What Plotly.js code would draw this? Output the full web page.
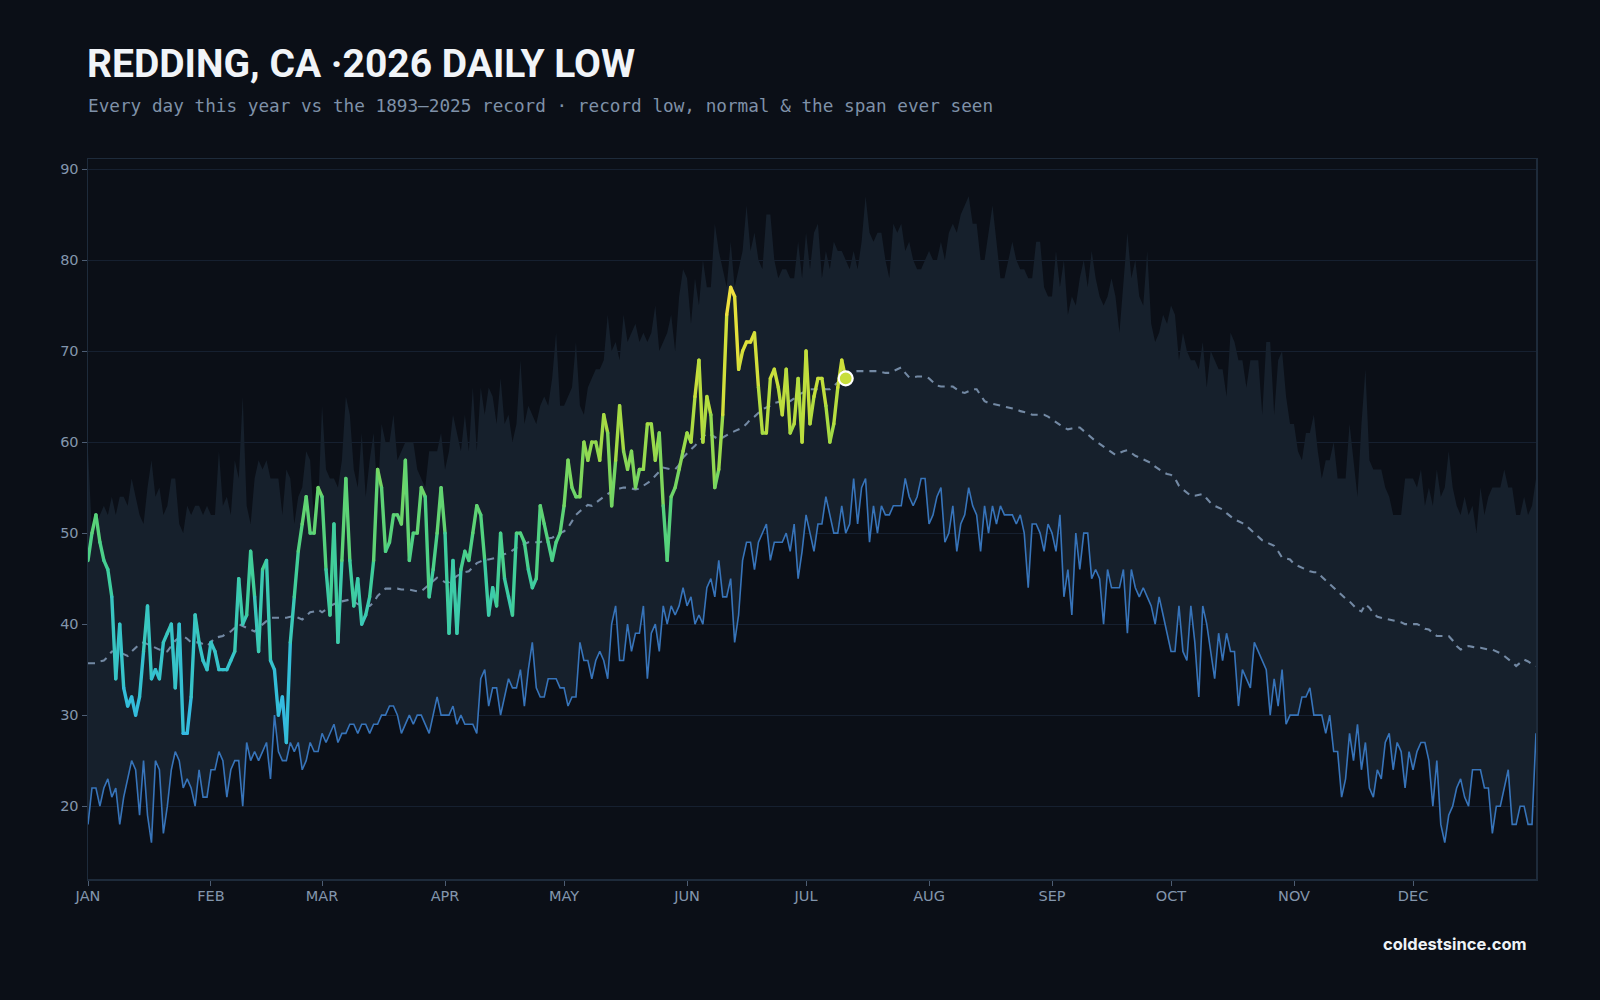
<!DOCTYPE html>
<html>
<head>
<meta charset="utf-8">
<script src="https://cdn.plot.ly/plotly-3.0.1.min.js"></script>
<style>
  html, body { margin: 0; padding: 0; background: #0b0f17; }
  #chart { width: 1600px; height: 1000px; }
</style>
</head>
<body>
<div id="chart"></div>
<script>
// Month labels and the day-of-year on which each month starts
const monthLabels = ['JAN','FEB','MAR','APR','MAY','JUN','JUL','AUG','SEP','OCT','NOV','DEC'];
const monthStartDay = [0,31,59,90,120,151,181,212,243,273,304,334];

// Record (coldest) daily low, 1893–2025, one value per calendar day
const recordLow = [
  18,22,22,20,22,23,21,22,18,21,
  23,25,24,19,25,19,16,25,24,17,
  20,24,26,25,22,23,22,20,24,21,
  21,24,24,26,25,21,24,25,25,20,
  27,25,26,25,26,27,23,30,26,25,
  25,27,26,27,24,25,27,26,26,28,
  27,28,29,27,28,28,29,29,28,29,
  29,28,29,29,30,30,31,31,30,28,
  29,30,29,30,30,29,28,30,32,30,
  30,30,31,29,30,29,29,29,28,34,
  35,31,33,33,30,32,34,33,33,35,
  31,35,38,33,32,32,34,34,34,33,
  33,31,32,32,38,36,36,34,36,37,
  36,34,40,42,36,36,40,37,39,39,
  42,34,39,40,37,42,40,42,41,42,
  44,42,43,40,41,40,44,45,43,47,
  43,43,45,38,41,47,49,49,46,49,
  50,51,47,49,49,49,50,48,51,45,
  48,52,50,48,51,51,54,52,50,50,
  53,50,51,56,51,55,56,49,53,50,
  53,52,52,53,53,53,56,54,53,54,
  56,56,51,52,54,55,49,50,53,48,
  51,52,55,53,52,48,53,50,53,51,
  53,52,52,52,51,52,50,44,51,51,
  50,48,51,50,48,52,43,46,41,50,
  46,50,50,45,46,45,40,46,44,44,
  44,46,39,46,44,43,44,43,42,40,
  43,41,39,37,37,42,37,36,42,38,
  32,42,40,37,34,39,36,39,37,37,
  31,35,34,33,38,37,36,35,30,34,
  31,35,29,30,30,30,32,32,33,30,
  30,30,28,30,26,26,21,23,28,25,
  29,24,27,22,21,24,23,27,28,24,
  27,26,22,26,24,26,27,27,25,20,
  25,18,16,19,20,22,23,21,20,24,
  24,24,22,22,17,20,20,22,24,18,
  18,20,20,18,18,28
];

// Warmest daily low ever seen, top of the historical span
const recordHigh = [
  59,50,51,52,53,52,54,52,54,54,
  53,56,54,52,51,55,58,54,55,52,
  53,56,56,51,50,53,52,53,53,52,
  53,52,52,59,53,54,52,58,56,65,
  53,51,56,58,57,58,56,56,56,52,
  57,56,51,54,55,59,58,51,53,64,
  57,56,56,55,58,65,63,57,55,61,
  54,58,61,54,62,60,60,63,58,59,
  60,60,60,57,56,55,59,59,59,61,
  57,59,63,61,59,63,59,66,59,66,
  63,66,65,62,67,62,63,60,62,69,
  62,64,63,62,64,65,64,67,72,64,
  64,65,66,71,64,63,66,67,68,68,
  69,74,70,71,69,74,71,72,73,71,
  72,71,72,75,70,71,72,74,70,76,
  79,78,73,78,75,80,77,77,84,81,
  79,77,82,77,79,81,86,81,83,80,
  79,85,85,80,78,79,79,78,78,82,
  78,83,79,83,84,78,81,79,82,81,
  81,80,79,81,79,82,87,83,82,83,
  83,80,78,84,83,84,81,82,80,79,
  79,80,81,80,80,82,80,83,84,83,
  85,86,87,84,84,80,80,83,86,82,
  78,78,80,82,80,79,79,78,78,82,
  82,77,76,76,81,77,80,74,76,75,
  78,80,77,81,78,76,75,76,78,76,
  72,78,83,78,80,76,75,81,73,71,
  72,74,73,75,74,69,72,70,69,69,
  68,71,66,70,69,68,68,65,72,71,
  69,69,66,69,69,69,63,71,71,63,
  69,70,65,62,62,59,58,61,61,63,
  59,56,58,58,60,56,56,56,62,58,
  54,62,68,58,57,57,57,55,54,52,
  52,52,56,56,56,55,57,53,55,53,
  57,54,55,59,55,53,52,54,52,53,
  50,55,52,54,55,55,55,57,55,55,
  52,52,54,52,53,56
];

// Normal daily low
const normalLow = [
  35.7,35.7,35.7,35.9,36.0,36.4,37.0,37.0,36.9,36.7,
  36.5,37.0,37.4,37.8,38.0,37.8,37.6,37.4,37.2,37.1,
  37.0,37.6,38.2,38.5,38.7,38.4,38.0,38.0,38.0,37.8,
  37.6,38.0,38.5,38.6,38.7,39.0,39.2,39.6,40.0,39.8,
  39.6,39.4,39.2,39.6,40.0,40.4,40.7,40.7,40.7,40.7,
  40.7,40.8,40.9,40.7,40.5,40.9,41.3,41.4,41.6,41.3,
  41.6,42.0,42.2,42.4,42.5,42.6,42.7,42.5,42.2,42.1,
  42.0,42.0,42.4,43.1,43.5,43.9,43.9,43.9,43.9,43.8,
  43.8,43.8,43.7,43.6,43.6,44.0,44.4,44.8,45.1,44.9,
  44.6,44.6,45.0,45.3,45.5,45.7,45.8,46.2,46.7,46.9,
  47.1,47.1,47.2,47.3,47.5,47.7,47.8,48.1,48.4,48.6,
  48.8,49.0,49.0,49.0,49.0,49.2,49.4,49.5,49.7,50.0,
  50.2,50.6,51.3,52.0,52.4,52.8,53.1,53.0,53.3,53.7,
  54.0,54.3,54.6,54.8,54.9,55.0,55.0,54.9,54.8,54.9,
  55.2,55.5,55.8,56.3,56.8,57.2,57.1,57.0,57.0,57.5,
  58.3,58.8,59.2,59.6,60.1,60.6,61.0,60.8,60.5,60.3,
  60.5,60.8,61.0,61.2,61.4,61.6,62.0,62.5,62.8,63.2,
  63.6,63.8,64.0,64.3,64.4,64.5,64.5,64.5,64.8,65.2,
  65.4,65.6,65.8,65.8,65.8,65.9,65.8,65.8,66.2,66.6,
  67.0,67.3,67.6,67.7,67.8,67.8,67.8,67.8,67.8,67.8,
  67.7,67.6,67.6,67.8,68.0,68.2,67.6,67.1,67.1,67.2,
  67.2,67.2,67.0,66.6,66.2,66.1,66.1,66.1,66.1,65.8,
  65.5,65.4,65.6,65.8,65.8,65.2,64.5,64.3,64.2,64.1,
  64.0,63.9,63.8,63.7,63.6,63.4,63.3,63.2,63.0,63.0,
  63.0,63.0,62.8,62.5,62.3,61.9,61.6,61.4,61.5,61.6,
  61.6,61.2,60.8,60.5,60.1,59.8,59.5,59.2,58.9,58.6,
  58.8,59.0,59.1,58.8,58.5,58.3,58.1,57.9,57.7,57.3,
  57.0,56.7,56.5,56.4,56.0,55.2,54.8,54.4,54.1,54.1,
  54.2,54.3,53.8,53.3,53.0,52.8,52.6,52.2,51.8,51.5,
  51.3,51.1,50.8,50.4,49.9,49.6,49.2,49.0,48.8,48.6,
  48.0,47.3,47.2,47.1,46.6,46.4,46.2,46.0,45.8,45.7,
  45.7,45.2,44.8,44.4,44.0,43.5,43.2,42.8,42.5,42.1,
  41.6,41.4,42.2,41.8,41.2,40.8,40.7,40.6,40.5,40.4,
  40.3,40.2,40.0,40.0,40.0,40.0,39.8,39.5,39.4,39.0,
  38.7,38.7,38.7,38.7,38.2,37.6,37.2,37.4,37.6,37.5,
  37.4,37.4,37.3,37.2,37.2,37.0,36.8,36.5,36.2,35.8,
  35.4,35.7,36.1,35.9,35.6,35.4
];

// 2026 observed daily lows, Jan 1 – Jul 11
const lows2026 = [
  47,50,52,49,47,46,43,34,40,33,
  31,32,30,32,37,42,34,35,34,38,
  39,40,33,40,28,28,32,41,38,36,
  35,38,37,35,35,35,36,37,45,40,
  41,48,43,37,46,47,36,35,30,32,
  27,38,43,48,51,54,50,50,55,54,
  46,41,51,38,47,56,47,42,45,40,
  41,43,47,57,55,48,49,52,52,51,
  58,47,50,50,55,54,43,46,50,55,
  50,39,47,39,46,48,47,50,53,52,
  47,41,44,42,50,45,43,41,50,50,
  49,46,44,45,53,51,49,47,49,50,
  53,58,55,54,54,60,58,60,60,58,
  63,61,53,58,64,59,57,59,55,57,
  57,62,62,58,61,53,47,54,55,57,
  59,61,60,65,69,60,65,63,55,57,
  63,74,77,76,68,70,71,71,72,66,
  61,61,67,68,66,63,68,61,62,67,
  60,70,62,65,67,67,64,60,62,66,
  69,67
];

// Colour ramp for this year's line, keyed by temperature
const rampStops = [
  [27, [53,182,232]], [33, [52,191,214]], [40, [58,200,187]], [45, [63,205,156]],
  [50, [84,210,125]], [56, [118,214,98]], [61, [163,219,70]], [66, [195,222,60]],
  [71, [222,224,58]], [77, [243,224,64]]
];
function rampColor(v) {
  if (v <= rampStops[0][0]) return 'rgb(' + rampStops[0][1].join(',') + ')';
  for (let i = 1; i < rampStops.length; i++) {
    const [t1, c1] = rampStops[i];
    const [t0, c0] = rampStops[i - 1];
    if (v <= t1) {
      const f = (v - t0) / (t1 - t0);
      const c = c0.map((a, k) => Math.round(a + (c1[k] - a) * f));
      return 'rgb(' + c.join(',') + ')';
    }
  }
  return 'rgb(' + rampStops[rampStops.length - 1][1].join(',') + ')';
}

const dayIdx = recordLow.map((_, i) => i);
const day2026 = lows2026.map((_, i) => i);

const traces = [];

// historical span: record low up to warmest low
traces.push({
  x: dayIdx, y: recordLow, type: 'scatter', mode: 'lines',
  line: { width: 0, color: 'rgba(0,0,0,0)' }, hoverinfo: 'skip', showlegend: false
});
traces.push({
  x: dayIdx, y: recordHigh, type: 'scatter', mode: 'lines',
  fill: 'tonexty', fillcolor: '#16202c',
  line: { width: 0, color: 'rgba(0,0,0,0)' }, hoverinfo: 'skip', showlegend: false
});

// normal
traces.push({
  x: dayIdx, y: normalLow, type: 'scatter', mode: 'lines',
  line: { color: '#7389a4', width: 2.1, dash: '7px,6px' }, hoverinfo: 'skip', showlegend: false
});

// record low line
traces.push({
  x: dayIdx, y: recordLow, type: 'scatter', mode: 'lines',
  line: { color: '#3774ba', width: 1.6 }, hoverinfo: 'skip', showlegend: false
});

// this year, one segment per day so each can carry its own colour
for (let i = 0; i < lows2026.length - 1; i++) {
  traces.push({
    x: [day2026[i], day2026[i + 1]],
    y: [lows2026[i], lows2026[i + 1]],
    type: 'scatter', mode: 'lines',
    line: { color: rampColor((lows2026[i] + lows2026[i + 1]) / 2), width: 3.4 },
    hoverinfo: 'skip', showlegend: false
  });
}

// latest reading
const last = lows2026.length - 1;
traces.push({
  x: [day2026[last]], y: [lows2026[last]], type: 'scatter', mode: 'markers',
  marker: { size: 14, color: rampColor(lows2026[last]), line: { color: '#ffffff', width: 2.2 } },
  hoverinfo: 'skip', showlegend: false
});

const tickFont = { family: 'DejaVu Sans, Verdana, sans-serif', size: 14.5, color: '#8396ad' };

const layout = {
  width: 1600, height: 1000,
  paper_bgcolor: '#0b0f17', plot_bgcolor: '#0b0f17',
  margin: { l: 88, r: 64, t: 159, b: 121 },
  showlegend: false,
  title: {
    text: 'REDDING, CA ·2026 DAILY LOW',
    x: 87 / 1600, xanchor: 'left', xref: 'container',
    y: 1 - 63 / 1000, yanchor: 'middle', yref: 'container',
    font: { family: 'Roboto, Inter, sans-serif', size: 39, color: '#f1f4f8', weight: 700 }
  },
  xaxis: {
    range: [0, 365],
    tickvals: monthStartDay, ticktext: monthLabels,
    showgrid: false, zeroline: false,
    showline: true, linecolor: '#1e2b3b', linewidth: 1.5, mirror: true,
    ticks: 'outside', ticklen: 5, tickcolor: '#4d5d73', tickwidth: 1,
    ticklabelstandoff: -2,
    tickfont: tickFont
  },
  yaxis: {
    range: [12, 91.1],
    tickvals: [20, 30, 40, 50, 60, 70, 80, 90],
    showgrid: true, gridcolor: '#162030', gridwidth: 1, zeroline: false,
    showline: true, linecolor: '#1e2b3b', linewidth: 1.5, mirror: true,
    ticks: 'outside', ticklen: 5, tickcolor: '#4d5d73', tickwidth: 1,
    tickfont: tickFont
  },
  annotations: [
    {
      text: 'Every day this year vs the 1893–2025 record · record low, normal &amp; the span ever seen',
      xref: 'paper', yref: 'paper', x: -2 / 1448, y: (879 - 106) / 720,
      xanchor: 'left', yanchor: 'middle', showarrow: false,
      font: { family: 'DejaVu Sans Mono, monospace', size: 17.7, color: '#7f91a8' }
    },
    {
      text: '<b>coldestsince.com</b>',
      xref: 'paper', yref: 'paper', x: (1529 - 88) / 1448, y: (879 - 944) / 720,
      xanchor: 'right', yanchor: 'middle', showarrow: false,
      font: { family: 'Inter, Roboto, sans-serif', size: 16.5, color: '#eef2f6' }
    }
  ]
};

Plotly.newPlot('chart', traces, layout, { staticPlot: true, displayModeBar: false }).then(() => {
  // round the joints of this year's segmented line
  document.querySelectorAll('.scatterlayer .js-line').forEach(p => {
    const w = parseFloat(p.style.strokeWidth || '0');
    if (w > 3) { p.style.strokeLinecap = 'round'; p.style.strokeLinejoin = 'round'; }
  });
});
</script>
</body>
</html>
